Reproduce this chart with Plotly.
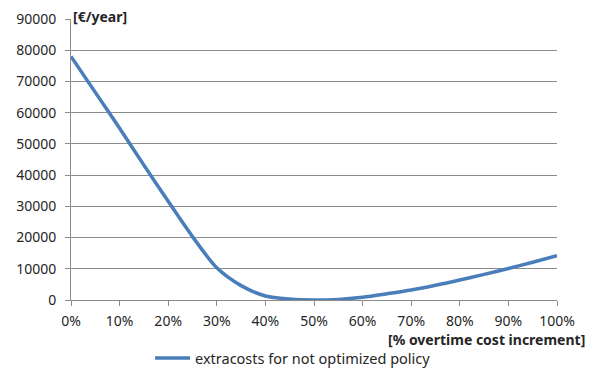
import plotly.graph_objects as go

# overtime cost increment (%) and yearly extra costs (€)
increment_pct = [0, 5, 10, 15, 20, 25, 30, 35, 40, 45, 50, 55, 60, 65, 70, 75, 80, 85, 90, 95, 100]
extracosts = [78000, 66500, 55000, 43200, 31600, 20300, 10300, 4600, 1300, 300, 0, 200, 900,
              2000, 3200, 4700, 6400, 8200, 10100, 12100, 14200]

x_ticks = [0, 10, 20, 30, 40, 50, 60, 70, 80, 90, 100]
x_tick_labels = [f"{v}%" for v in x_ticks]
y_ticks = [0, 10000, 20000, 30000, 40000, 50000, 60000, 70000, 80000, 90000]

series_name = "extracosts for not optimized policy"
FONT = "Noto Sans"
FS = 14
TXT = "#262626"
GRID = "#8c8c8c"
LINE = "#4a7ebb"

fig = go.Figure()
fig.add_trace(go.Scatter(
    x=increment_pct, y=extracosts, mode="lines", name=series_name,
    line=dict(color=LINE, width=3.5, shape="spline", smoothing=0.8),
    showlegend=False,
))

# legend key drawn below the axis title
fig.add_shape(type="line", xref="paper", yref="paper", x0=0.173, x1=0.245, y0=-0.206, y1=-0.206,
              line=dict(color=LINE, width=3.5))

fig.update_layout(
    width=589, height=370,
    margin=dict(l=71, r=32, t=19, b=70, autoexpand=False),
    paper_bgcolor="white", plot_bgcolor="white",
    font=dict(family=FONT, size=FS, color=TXT),
    showlegend=False,
    xaxis=dict(range=[0, 100], tickvals=x_ticks, ticktext=x_tick_labels,
               showgrid=False, zeroline=False, showline=True, linecolor=GRID, linewidth=1,
               ticks="outside", ticklen=5, tickcolor=GRID, ticklabelstandoff=3,
               tickfont=dict(family=FONT, size=FS, color=TXT)),
    yaxis=dict(range=[0, 90000], tickvals=y_ticks, showgrid=True, gridcolor=GRID, gridwidth=1,
               zeroline=False, showline=True, linecolor=GRID, linewidth=1,
               ticks="outside", ticklen=5, tickcolor=GRID, ticklabelstandoff=6,
               tickformat="d",
               tickfont=dict(family=FONT, size=FS, color=TXT)),
    annotations=[
        dict(text="<b>[€/year]</b>", xref="paper", yref="paper", x=0.0, y=1.01,
             xanchor="left", yanchor="middle", showarrow=False,
             font=dict(family=FONT, size=FS, color=TXT)),
        dict(text="<b>[% overtime cost increment]</b>", xref="paper", yref="paper",
             x=1.062, y=-0.142, xanchor="right", yanchor="middle", showarrow=False,
             font=dict(family=FONT, size=FS, color=TXT)),
        dict(text=series_name, xref="paper", yref="paper",
             x=0.251, y=-0.206, xanchor="left", yanchor="middle", showarrow=False,
             font=dict(family=FONT, size=FS + 0.5, color=TXT)),
    ],
)

fig.write_html("out.html")
